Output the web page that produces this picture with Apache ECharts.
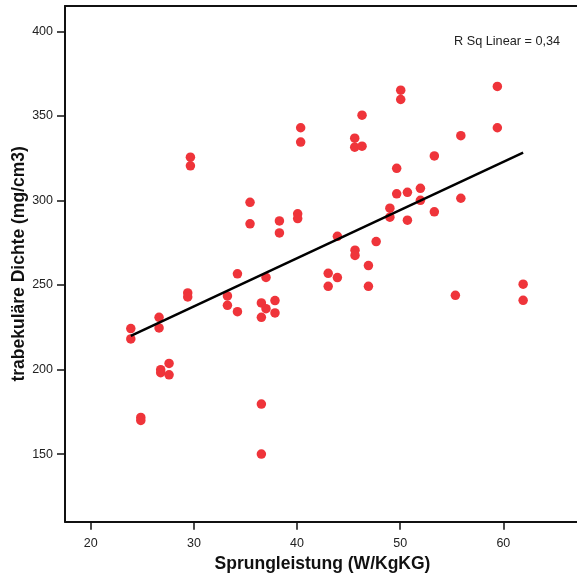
<!DOCTYPE html>
<html>
<head>
<meta charset="utf-8">
<script src="https://cdn.jsdelivr.net/npm/echarts@6/dist/echarts.min.js"></script>
<style>html,body{margin:0;padding:0;background:#fff;}#c{width:577px;height:576px;}</style>
</head>
<body>
<div id="c"></div>
<script>
var xValues = [23.88,23.88,24.85,24.85,26.62,26.62,26.78,26.78,27.59,27.59,29.40,29.40,29.66,29.66,33.25,33.25,34.22,34.22,35.44,35.44,36.54,36.54,36.54,36.54,36.99,36.99,37.86,37.86,38.29,38.29,40.06,40.06,40.35,40.35,43.02,43.02,43.91,43.91,45.59,45.59,45.62,45.62,46.30,46.30,46.92,46.92,47.67,49.00,49.00,49.66,49.66,50.05,50.05,50.70,50.70,51.96,51.96,53.31,53.31,55.35,55.88,55.88,59.42,59.42,61.92,61.92];
var yValues = [224.2,218.1,171.7,169.9,230.9,224.6,199.9,198.1,203.6,196.9,245.3,242.9,325.6,320.5,243.5,238.0,234.2,256.6,298.9,286.2,179.6,150.0,239.4,230.9,236.0,254.5,240.8,233.5,287.9,280.8,292.1,289.3,343.0,334.5,256.9,249.2,278.8,254.4,336.8,331.5,270.6,267.5,350.4,332.1,261.5,249.2,275.7,295.4,290.1,319.0,303.9,365.2,359.7,304.8,288.3,307.2,300.1,326.3,293.3,243.9,338.3,301.3,367.4,343.0,250.5,240.9];
var fitX = [23.88, 61.92];
var fitY = [219.9, 328.3];
var xTicks = [20, 30, 40, 50, 60];
var yTicks = [150, 200, 250, 300, 350, 400];
var xTitle = 'Sprungleistung (W/KgKG)';
var yTitle = 'trabekuläre Dichte (mg/cm3)';
var rsqText = 'R Sq Linear = 0,34';

var points = xValues.map(function (x, i) { return [x, yValues[i]]; });
var fitLine = fitX.map(function (x, i) { return [x, fitY[i]]; });

var chart = echarts.init(document.getElementById('c'), null, {renderer: 'canvas'});
var font = '"Liberation Sans", Arial, Helvetica, sans-serif';
var XMIN = 17.5, XMAX = 68.5;
chart.setOption({
  animation: false,
  backgroundColor: '#fff',
  grid: {left: 65, top: 6, width: 526, bottom: 54.3, show: false, outerBoundsMode: 'none', containLabel: false},
  xAxis: [{
    type: 'value', min: XMIN, max: XMAX, position: 'bottom',
    name: xTitle, nameLocation: 'middle', nameGap: 33, nameMoveOverlap: false,
    nameTextStyle: {fontFamily: font, fontSize: 17.5, fontWeight: 'bold', color: '#111', padding: [0, 11, 0, 0]},
    axisLine: {show: true, onZero: false, lineStyle: {color: '#111', width: 2}},
    axisTick: {show: true, inside: false, length: 8, lineStyle: {color: '#111', width: 1.5}, customValues: xTicks},
    axisLabel: {fontFamily: font, fontSize: 12.5, color: '#222', margin: 15, customValues: xTicks},
    splitLine: {show: false}
  }, {
    type: 'value', min: XMIN, max: XMAX, position: 'top',
    axisLine: {show: true, onZero: false, lineStyle: {color: '#111', width: 2}},
    axisTick: {show: false}, axisLabel: {show: false}, splitLine: {show: false}
  }],
  yAxis: {
    type: 'value', min: 110, max: 415,
    name: yTitle, nameLocation: 'middle', nameGap: 37, nameMoveOverlap: false,
    nameTextStyle: {fontFamily: font, fontSize: 17.5, fontWeight: 'bold', color: '#111'},
    axisLine: {show: true, onZero: false, lineStyle: {color: '#111', width: 2}},
    axisTick: {show: true, inside: false, length: 8, lineStyle: {color: '#111', width: 1.5}, customValues: yTicks},
    axisLabel: {fontFamily: font, fontSize: 12.5, color: '#222', margin: 12, customValues: yTicks},
    splitLine: {show: false}
  },
  graphic: [{
    type: 'text', left: 454, top: 35,
    style: {text: rsqText, font: '12.7px "Liberation Sans", Arial, sans-serif', fill: '#222'}
  }],
  series: [{
    type: 'scatter', data: points, symbol: 'circle', symbolSize: 9.5,
    itemStyle: {color: '#ef343a', opacity: 1}, z: 3
  }, {
    type: 'line', data: fitLine, symbol: 'none', showSymbol: false,
    lineStyle: {color: '#000', width: 2.5}, z: 4
  }]
});
</script>
</body>
</html>
